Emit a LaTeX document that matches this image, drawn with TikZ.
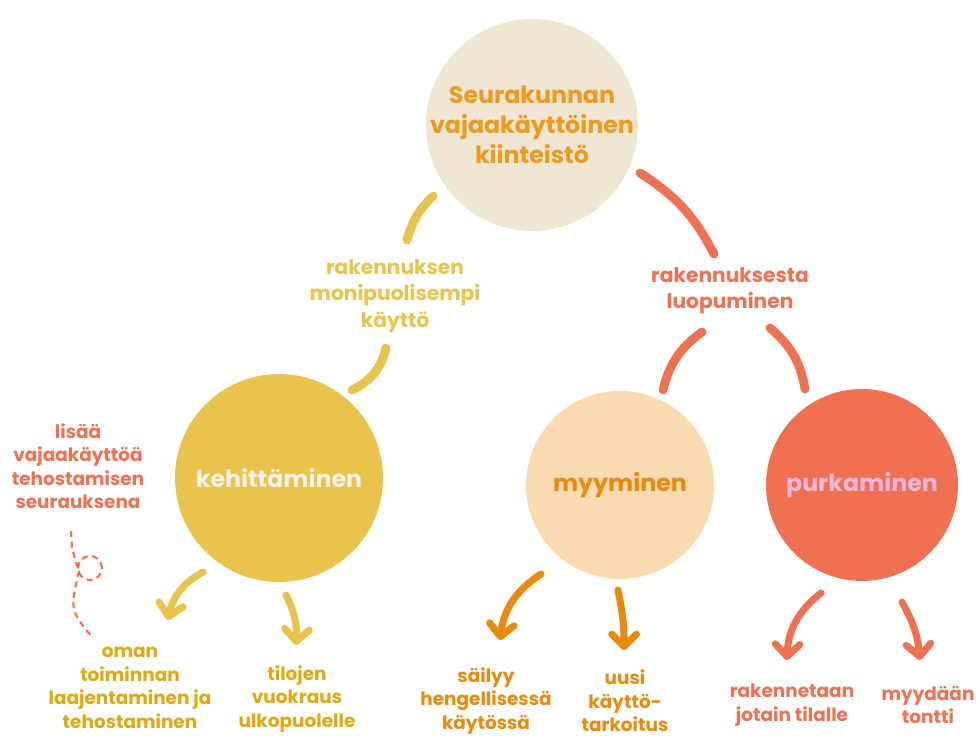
\documentclass[tikz,border=0pt]{standalone}
\usepackage{fontspec}
\setmainfont{Poppins}
\usetikzlibrary{arrows.meta}
\definecolor{beige}{HTML}{EFE5D3}
\definecolor{topText}{HTML}{EE9A1C}
\definecolor{mustard}{HTML}{E9C34B}
\definecolor{gold}{HTML}{E2A90F}
\definecolor{peach}{HTML}{FCDAB0}
\definecolor{tangerine}{HTML}{E98A0C}
\definecolor{coral}{HTML}{EF7152}
\definecolor{blush}{HTML}{F4B8DC}
\definecolor{chalk}{HTML}{F6F1EA}
\tikzset{
  bubble/.style = {circle, fill=#1, inner sep=0pt},
  stroke/.style = {color=#1, line width=5pt, line cap=round},
  pointer/.style = {color=#1, line width=4pt, line cap=round,
    -{Straight Barb[length=7pt, width=14pt, line width=4pt, round]}},
  label/.style = {text=#1, align=center, inner sep=0pt},
  hint/.style = {color=#1, line width=1.2pt, dash pattern=on 3.5pt off 2.5pt}
}
\newcommand{\bigtext}{\fontsize{13.5pt}{17pt}\selectfont\bfseries}
\newcommand{\midtext}{\fontsize{11.5pt}{15pt}\selectfont\bfseries}
\newcommand{\smalltext}{\fontsize{10.5pt}{13.4pt}\selectfont\bfseries}
\begin{document}
\begin{tikzpicture}[x=0.02cm, y=-0.02cm]

    \useasboundingbox (0,0) rectangle (978,737);

    % Circles
    \node[bubble={beige}, minimum size=4.24cm] (top) at (532,125) {};
    \node[bubble={mustard}, minimum size=4.16cm] (develop) at (279,478) {};
    \node[bubble={peach}, minimum size=3.76cm] (sell) at (620,485) {};
    \node[bubble={coral}, minimum size=3.84cm] (demolish) at (862,485) {};

    \node[label={topText}, font=\bigtext] at (top) {Seurakunnan\\vajaakäyttöinen\\kiinteistö};
    \node[label={chalk}, font=\bigtext] at (develop) {kehittäminen};
    \node[label={tangerine}, font=\bigtext] at (sell) {myyminen};
    \node[label={blush}, font=\bigtext] at (demolish) {purkaminen};

    % Branch labels
    \node[label={mustard}, font=\midtext] (useLabel) at (395,296) {rakennuksen\\monipuolisempi\\käyttö};
    \node[label={coral}, font=\midtext] (quitLabel) at (730,291) {rakennuksesta\\luopuminen};
    \node[label={coral}, font=\smalltext] (sideLabel) at (78,466) {lisää\\vajaakäyttöä\\tehostamisen\\seurauksena};

    % Arc end points
    \coordinate (a1) at (433,196);
    \coordinate (a2) at (407,240);
    \coordinate (b1) at (386,348);
    \coordinate (b2) at (352,390);
    \coordinate (c1) at (640,173);
    \coordinate (c2) at (714,254);
    \coordinate (d1) at (702,332);
    \coordinate (d2) at (663,390);
    \coordinate (e1) at (770,328);
    \coordinate (e2) at (805,389);

    % Arcs
    \draw[stroke={mustard}] (a1) to[bend right=15] (a2);
    \draw[stroke={mustard}] (b1) to[bend left=25] (b2);
    \draw[stroke={coral}] (c1) to[bend left=15] (c2);
    \draw[stroke={coral}] (d1) to[bend right=20] (d2);
    \draw[stroke={coral}] (e1) to[bend left=20] (e2);

    % Outcomes
    \node[label={gold}, font=\smalltext] (own) at (130,688) {oman\\toiminnan\\laajentaminen ja\\tehostaminen};
    \node[label={gold}, font=\smalltext] (rent) at (297,699) {tilojen\\vuokraus\\ulkopuolelle};
    \node[label={tangerine}, font=\smalltext] (keep) at (486,701) {säilyy\\hengellisessä\\käytössä};
    \node[label={tangerine}, font=\smalltext] (reuse) at (625,701) {uusi\\käyttö-\\tarkoitus};
    \node[label={coral}, font=\smalltext] (build) at (792,705) {rakennetaan\\jotain tilalle};
    \node[label={coral}, font=\smalltext] (plot) at (928,705) {myydään\\tontti};

    % Arrow end points
    \coordinate (p1) at (203,572);
    \coordinate (q1) at (168,620);
    \coordinate (p2) at (286,595);
    \coordinate (q2) at (296,645);
    \coordinate (p3) at (541,574);
    \coordinate (q3) at (500,640);
    \coordinate (p4) at (618,590);
    \coordinate (q4) at (624,650);
    \coordinate (p5) at (821,593);
    \coordinate (q5) at (787,660);
    \coordinate (p6) at (902,602);
    \coordinate (q6) at (920,660);

    % Arrows
    \draw[pointer={mustard}] (p1) to[bend right=25] (q1);
    \draw[pointer={mustard}] (p2) to[bend left=15] (q2);
    \draw[pointer={tangerine}] (p3) to[bend right=25] (q3);
    \draw[pointer={tangerine}] (p4) to[bend left=6] (q4);
    \draw[pointer={coral}] (p5) to[bend right=25] (q5);
    \draw[pointer={coral}] (p6) to[bend left=12] (q6);

    % Dashed loop
    \coordinate (h1) at (71,531);
    \coordinate (h2) at (79,571);
    \coordinate (h3) at (92,637);
    \draw[hint={coral}] (h1) .. controls (72,550) .. (h2);
    \draw[hint={coral}] (90,568) circle (0.24cm);
    \draw[hint={coral}] (h2) .. controls (70,610) .. (h3);

\end{tikzpicture}
\end{document}
